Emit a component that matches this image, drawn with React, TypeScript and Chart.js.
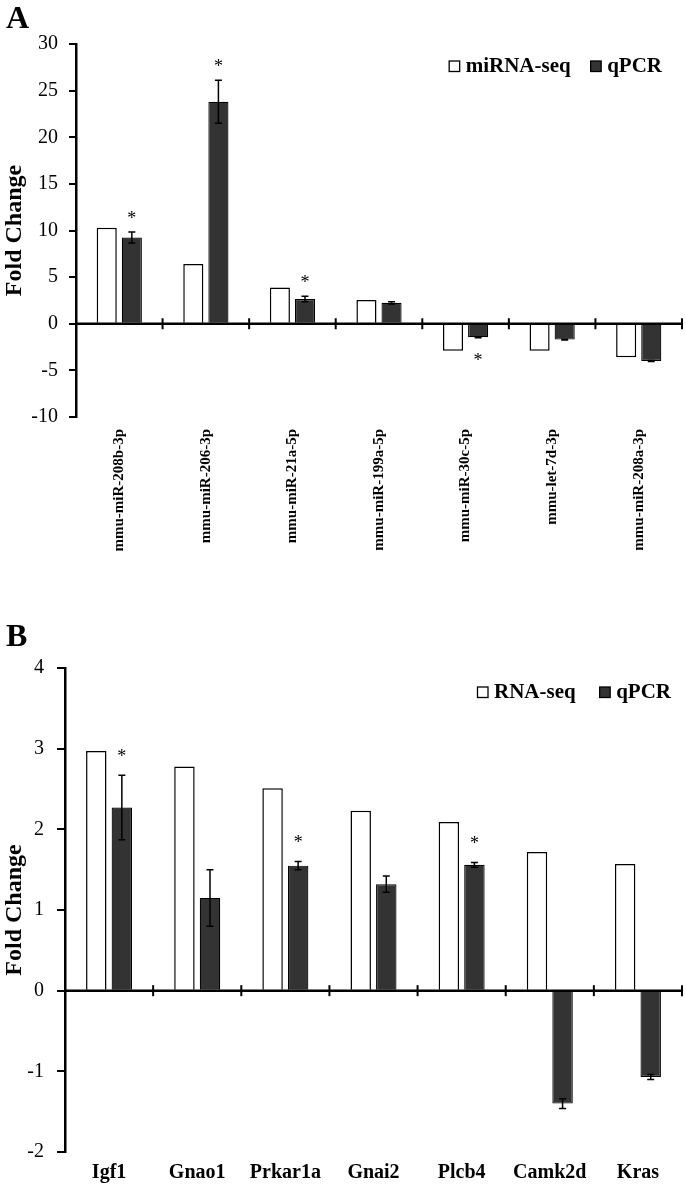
import React, { useEffect, useRef } from 'react';
import { Chart, registerables } from 'chart.js';

Chart.register(...registerables);

const SERIF = '"Liberation Serif", "Times New Roman", Times, serif';

// ---------- Panel A data ----------
const categoriesA = [
  'mmu-miR-208b-3p',
  'mmu-miR-206-3p',
  'mmu-miR-21a-5p',
  'mmu-miR-199a-5p',
  'mmu-miR-30c-5p',
  'mmu-let-7d-3p',
  'mmu-miR-208a-3p',
];
const seqA = [10.3, 6.4, 3.9, 2.55, -2.9, -2.9, -3.6];
const qpcrA = [9.25, 23.8, 2.65, 2.25, -1.45, -1.7, -4.0];
const qpcrErrA = [0.6, 2.3, 0.3, 0.12, 0.05, 0.05, 0.05];
const starsA = [true, true, true, false, true, false, false];
const yMinA = -10;
const yMaxA = 30;
const yStepA = 5;

// ---------- Panel B data ----------
const categoriesB = ['Igf1', 'Gnao1', 'Prkar1a', 'Gnai2', 'Plcb4', 'Camk2d', 'Kras'];
const seqB = [2.97, 2.78, 2.51, 2.23, 2.09, 1.72, 1.57];
const qpcrB = [2.27, 1.15, 1.55, 1.32, 1.56, -1.4, -1.07];
const qpcrErrB = [0.4, 0.35, 0.05, 0.1, 0.03, 0.06, 0.03];
const starsB = [true, false, true, false, true, false, false];
const yMinB = -2;
const yMaxB = 4;
const yStepB = 1;

type PanelCfg = {
  labels: string[];
  seq: number[];
  qpcr: number[];
  err: number[];
  stars: boolean[];
  seqName: string;
  min: number;
  max: number;
  step: number;
  width: number;
  height: number;
  leftW: number;
  bottomH: number;
  padTop: number;
  padRight: number;
  xRotated: boolean;
  xFont: number;
  xPad: number;
  yTickLen: number;
  yTickPad: number;
  legendRightInset: number;
  legendBaselineOffset: number;
  legendItemGap: number;
  starGapAbove: number;
  starGapBelow: number;
};

const panelA: PanelCfg = {
  labels: categoriesA,
  seq: seqA,
  qpcr: qpcrA,
  err: qpcrErrA,
  stars: starsA,
  seqName: 'miRNA-seq',
  min: yMinA,
  max: yMaxA,
  step: yStepA,
  width: 686,
  height: 570,
  leftW: 76,
  bottomH: 153,
  padTop: 44,
  padRight: 4,
  xRotated: true,
  xFont: 15,
  xPad: 12,
  yTickLen: 7,
  yTickPad: 11,
  legendRightInset: 20,
  legendBaselineOffset: 28,
  legendItemGap: 20,
  starGapAbove: 16,
  starGapBelow: 21,
};

const panelB: PanelCfg = {
  labels: categoriesB,
  seq: seqB,
  qpcr: qpcrB,
  err: qpcrErrB,
  stars: starsB,
  seqName: 'RNA-seq',
  min: yMinB,
  max: yMaxB,
  step: yStepB,
  width: 686,
  height: 594,
  leftW: 65,
  bottomH: 32,
  padTop: 78,
  padRight: 4,
  xRotated: false,
  xFont: 20,
  xPad: 9,
  yTickLen: 8,
  yTickPad: 13,
  legendRightInset: 11,
  legendBaselineOffset: 30,
  legendItemGap: 24,
  starGapAbove: 21,
  starGapBelow: 21,
};

function makeOverlay(cfg: PanelCfg) {
  return {
    id: 'overlay',
    afterDatasetsDraw(chart: any) {
      const ctx = chart.ctx as CanvasRenderingContext2D;
      const { left, right, top } = chart.chartArea;
      const ys = chart.scales.y;
      const y0 = ys.getPixelForValue(0);
      ctx.save();
      // zero axis line with category boundary ticks
      ctx.strokeStyle = '#000';
      ctx.lineWidth = 2.5;
      ctx.beginPath();
      ctx.moveTo(left, y0);
      ctx.lineTo(right, y0);
      ctx.stroke();
      const n = cfg.labels.length;
      const w = (right - left) / n;
      ctx.lineWidth = 2;
      for (let i = 1; i <= n; i++) {
        const x = left + i * w;
        ctx.beginPath();
        ctx.moveTo(x, y0 - 5.5);
        ctx.lineTo(x, y0 + 5.5);
        ctx.stroke();
      }
      // error bars + significance stars
      const meta = chart.getDatasetMeta(1);
      meta.data.forEach((el: any, i: number) => {
        const v = cfg.qpcr[i];
        const e = cfg.err[i];
        const yt = ys.getPixelForValue(v + e);
        const yb = ys.getPixelForValue(v - e);
        const x = el.x;
        ctx.strokeStyle = '#000';
        ctx.lineWidth = 1.5;
        ctx.beginPath();
        ctx.moveTo(x, yt);
        ctx.lineTo(x, yb);
        ctx.moveTo(x - 3.5, yt);
        ctx.lineTo(x + 3.5, yt);
        ctx.moveTo(x - 3.5, yb);
        ctx.lineTo(x + 3.5, yb);
        ctx.stroke();
        if (cfg.stars[i]) {
          ctx.fillStyle = '#000';
          ctx.font = `18px ${SERIF}`;
          ctx.textAlign = 'center';
          ctx.textBaseline = 'middle';
          const yc = v >= 0 ? yt - cfg.starGapAbove : yb + cfg.starGapBelow;
          ctx.fillText('*', x, yc + 3);
        }
      });
      // legend
      ctx.font = `bold 21px ${SERIF}`;
      ctx.textAlign = 'left';
      ctx.textBaseline = 'alphabetic';
      const items = [
        { name: cfg.seqName, fill: '#ffffff' },
        { name: 'qPCR', fill: '#333333' },
      ];
      const box = 10.5;
      const gap = 6;
      const widths = items.map((it) => ctx.measureText(it.name).width);
      const total =
        widths.reduce((a, b) => a + b, 0) + items.length * (box + gap) + cfg.legendItemGap * (items.length - 1);
      let x = right - cfg.legendRightInset - total;
      const baseline = top + cfg.legendBaselineOffset;
      items.forEach((it, i) => {
        ctx.fillStyle = it.fill;
        ctx.fillRect(x, baseline - 11, box, box);
        ctx.strokeStyle = '#000';
        ctx.lineWidth = 1.3;
        ctx.strokeRect(x, baseline - 11, box, box);
        x += box + gap;
        ctx.fillStyle = '#000';
        ctx.fillText(it.name, x, baseline);
        x += widths[i] + cfg.legendItemGap;
      });
      ctx.restore();
    },
  };
}

function makeConfig(cfg: PanelCfg): any {
  return {
    type: 'bar',
    data: {
      labels: cfg.labels,
      datasets: [
        {
          label: cfg.seqName,
          data: cfg.seq,
          backgroundColor: '#ffffff',
          borderColor: '#000000',
          borderWidth: 1.5,
          categoryPercentage: 0.58,
          barPercentage: 0.8,
        },
        {
          label: 'qPCR',
          data: cfg.qpcr,
          backgroundColor: '#333333',
          borderColor: '#000000',
          borderWidth: 1.2,
          categoryPercentage: 0.58,
          barPercentage: 0.8,
        },
      ],
    },
    options: {
      responsive: false,
      animation: false,
      devicePixelRatio: 1,
      layout: { padding: { top: cfg.padTop, right: cfg.padRight, left: 0, bottom: 0 } },
      plugins: {
        legend: { display: false },
        tooltip: { enabled: false },
      },
      scales: {
        x: {
          offset: true,
          grid: { display: false, drawTicks: false },
          border: { display: false },
          ticks: {
            color: '#000',
            autoSkip: false,
            font: { family: SERIF, size: cfg.xFont, weight: 'bold' },
            padding: cfg.xPad,
            maxRotation: cfg.xRotated ? 90 : 0,
            minRotation: cfg.xRotated ? 90 : 0,
          },
          afterFit: (s: any) => {
            s.height = cfg.bottomH;
          },
        },
        y: {
          min: cfg.min,
          max: cfg.max,
          grid: {
            drawOnChartArea: false,
            drawTicks: true,
            tickLength: cfg.yTickLen,
            color: '#000',
            lineWidth: 2,
          },
          border: { display: true, color: '#000', width: 2.5 },
          ticks: {
            stepSize: cfg.step,
            color: '#000',
            padding: cfg.yTickPad,
            font: { family: SERIF, size: 20 },
          },
          title: {
            display: true,
            text: 'Fold Change',
            color: '#000',
            font: { family: SERIF, size: 24, weight: 'bold' },
            padding: { top: 0, bottom: 0 },
          },
          afterFit: (s: any) => {
            s.width = cfg.leftW;
          },
        },
      },
    },
    plugins: [makeOverlay(cfg)],
  };
}

function Panel({ cfg, top }: { cfg: PanelCfg; top: number }) {
  const ref = useRef<HTMLCanvasElement | null>(null);
  useEffect(() => {
    if (!ref.current) return;
    const chart = new Chart(ref.current, makeConfig(cfg));
    return () => chart.destroy();
  }, [cfg]);
  return (
    <canvas
      ref={ref}
      width={cfg.width}
      height={cfg.height}
      style={{ position: 'absolute', left: 0, top, width: cfg.width, height: cfg.height }}
    />
  );
}

const panelLabelStyle: React.CSSProperties = {
  position: 'absolute',
  left: 6,
  fontFamily: SERIF,
  fontWeight: 'bold',
  fontSize: 32,
  lineHeight: '32px',
  color: '#000',
};

export default function App() {
  return (
    <div
      style={{
        position: 'absolute',
        left: 0,
        top: 0,
        width: 686,
        height: 1184,
        background: '#fff',
        overflow: 'hidden',
      }}
    >
      <Panel cfg={panelA} top={0} />
      <Panel cfg={panelB} top={590} />
      <div style={{ ...panelLabelStyle, top: 1 }}>A</div>
      <div style={{ ...panelLabelStyle, top: 619 }}>B</div>
    </div>
  );
}
